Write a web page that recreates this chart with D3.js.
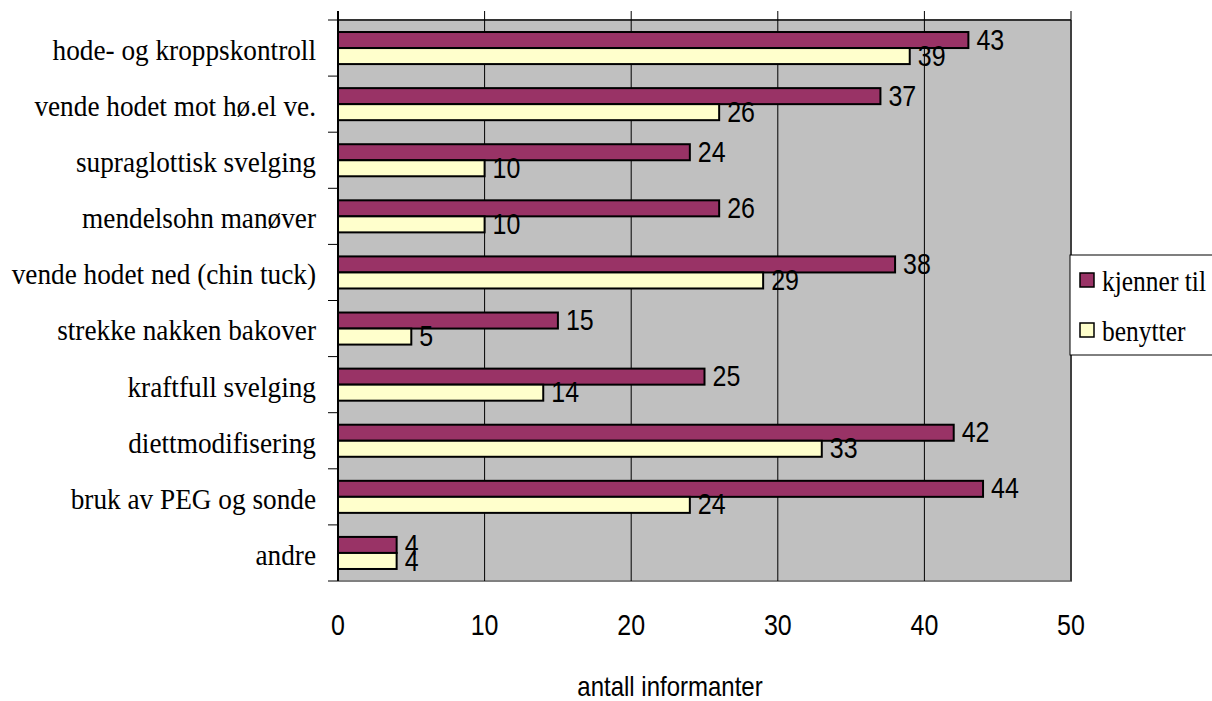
<!DOCTYPE html>
<html>
<head>
<meta charset="utf-8">
<script src="https://cdn.jsdelivr.net/npm/d3@7"></script>
<style>
  html, body { margin: 0; padding: 0; background: #fff; }
  svg { display: block; }
</style>
</head>
<body>
<svg id="chart" width="1212" height="701"></svg>
<script>
// Kjennskap til og bruk av teknikker
const categories = [
  "hode- og kroppskontroll",
  "vende hodet mot hø.el ve.",
  "supraglottisk svelging",
  "mendelsohn manøver",
  "vende hodet ned (chin tuck)",
  "strekke nakken bakover",
  "kraftfull svelging",
  "diettmodifisering",
  "bruk av PEG og sonde",
  "andre"
];
const kjennerTil = [43, 37, 24, 26, 38, 15, 25, 42, 44, 4];
const benytter   = [39, 26, 10, 10, 29, 5, 14, 33, 24, 4];
const seriesNames = ["kjenner til", "benytter"];
const tickValues = [0, 10, 20, 30, 40, 50];
const axisTitle = "antall informanter";

const colors = ["#993366", "#FFFFCC"];
const svg = d3.select("#chart");

const plot = { left: 338, right: 1071, top: 20, bottom: 581 };

const x = d3.scaleLinear().domain([0, 50]).range([plot.left, plot.right]);
const y = d3.scaleBand().domain(categories).range([plot.top, plot.bottom])
  .paddingInner(24 / 56).paddingOuter(12 / 56);
const ySeries = d3.scaleBand().domain(seriesNames).range([0, y.bandwidth()]);

// plot background
svg.append("rect")
  .attr("x", plot.left).attr("y", plot.top)
  .attr("width", plot.right - plot.left).attr("height", plot.bottom - plot.top)
  .attr("fill", "#C0C0C0");
// right and bottom edges
svg.append("path")
  .attr("d", `M${plot.right},${plot.top}V${plot.bottom}H${plot.left}`)
  .attr("fill", "none").attr("stroke", "#808080").attr("stroke-width", 2);
// top edge
svg.append("line")
  .attr("x1", plot.left).attr("x2", plot.right)
  .attr("y1", plot.top).attr("y2", plot.top)
  .attr("stroke", "#333").attr("stroke-width", 2);

// vertical gridlines, extending above the plot as tick marks
svg.append("g").selectAll("line").data(tickValues.slice(1)).join("line")
  .attr("x1", d => x(d)).attr("x2", d => x(d))
  .attr("y1", plot.top - 9).attr("y2", plot.bottom)
  .attr("stroke", "#000").attr("stroke-width", 1);

// category axis
const step = y.step();
const bounds = d3.range(categories.length + 1).map(i => plot.top + i * step);
svg.append("g").selectAll("line").data(bounds).join("line")
  .attr("x1", plot.left - 10).attr("x2", plot.left)
  .attr("y1", d => d).attr("y2", d => d)
  .attr("stroke", "#000").attr("stroke-width", 1);
svg.append("line")
  .attr("x1", plot.left).attr("x2", plot.left)
  .attr("y1", plot.top - 9).attr("y2", plot.bottom)
  .attr("stroke", "#000").attr("stroke-width", 2);

svg.append("g").selectAll("text").data(categories).join("text")
  .attr("transform", d => `translate(316,${y(d) + y.bandwidth() / 2 + 2}) scale(1.01,1.1)`)
  .attr("text-anchor", "end")
  .attr("dominant-baseline", "central")
  .attr("font-family", "'Liberation Serif', 'Times New Roman', serif")
  .attr("font-size", 27)
  .attr("fill", "#000")
  .text(d => d);

// bars
const rows = categories.map((c, i) => ({ c, vals: [kjennerTil[i], benytter[i]] }));
const groups = svg.append("g").selectAll("g").data(rows).join("g")
  .attr("transform", d => `translate(0,${y(d.c)})`);

groups.selectAll("rect").data(d => d.vals.map((v, k) => ({ v, k }))).join("rect")
  .attr("x", x(0))
  .attr("y", d => ySeries(seriesNames[d.k]))
  .attr("width", d => x(d.v) - x(0))
  .attr("height", ySeries.bandwidth())
  .attr("fill", d => colors[d.k])
  .attr("stroke", "#000").attr("stroke-width", 2);

groups.selectAll("text").data(d => d.vals.map((v, k) => ({ v, k }))).join("text")
  .attr("transform", d => `translate(${x(d.v) + 8},${ySeries(seriesNames[d.k]) + ySeries.bandwidth() / 2}) scale(1,1.15)`)
  .attr("dominant-baseline", "central")
  .attr("font-family", "'Liberation Sans', Arial, sans-serif")
  .attr("font-size", 25)
  .attr("fill", "#000")
  .text(d => d.v);

// value axis labels
svg.append("g").selectAll("text").data(tickValues).join("text")
  .attr("transform", d => `translate(${x(d)},625) scale(1,1.15)`)
  .attr("text-anchor", "middle")
  .attr("dominant-baseline", "central")
  .attr("font-family", "'Liberation Sans', Arial, sans-serif")
  .attr("font-size", 25)
  .attr("fill", "#000")
  .text(d => d);

svg.append("text")
  .attr("transform", "translate(670,696) scale(1,1.15)")
  .attr("text-anchor", "middle")
  .attr("font-family", "'Liberation Sans', Arial, sans-serif")
  .attr("font-size", 24)
  .attr("fill", "#000")
  .text(axisTitle);

// legend
const legend = svg.append("g");
legend.append("rect")
  .attr("x", 1070).attr("y", 255).attr("width", 160).attr("height", 100)
  .attr("fill", "#fff").attr("stroke", "#000").attr("stroke-width", 1);
const items = legend.selectAll("g").data(seriesNames).join("g")
  .attr("transform", (d, i) => `translate(1080,${280 + i * 50})`);
items.append("rect")
  .attr("x", 0).attr("y", -7).attr("width", 14).attr("height", 14)
  .attr("fill", (d, i) => colors[i]).attr("stroke", "#000").attr("stroke-width", 1.5);
items.append("text")
  .attr("transform", "translate(22,1) scale(0.98,1.1)")
  .attr("dominant-baseline", "central")
  .attr("font-family", "'Liberation Serif', 'Times New Roman', serif")
  .attr("font-size", 26)
  .attr("fill", "#000")
  .text(d => d);
</script>
</body>
</html>
